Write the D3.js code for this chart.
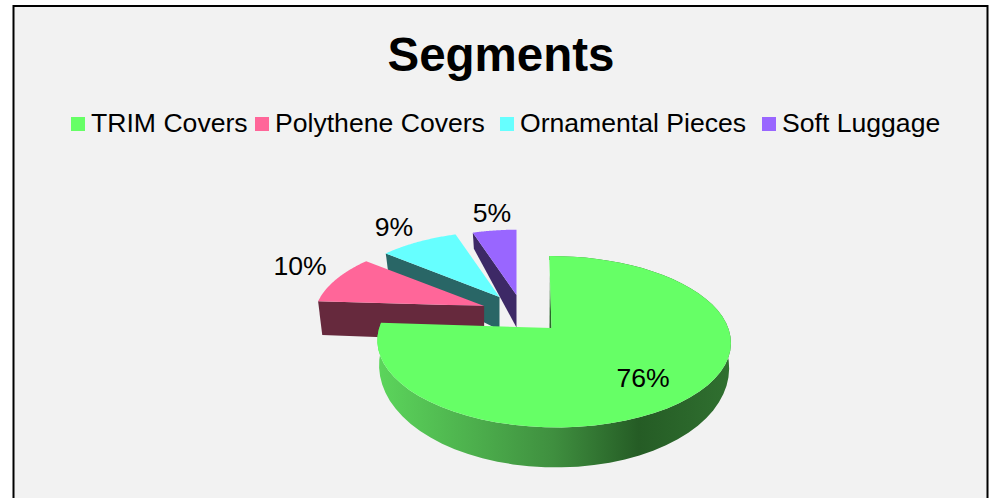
<!DOCTYPE html>
<html>
<head>
<meta charset="utf-8">
<script src="https://cdn.jsdelivr.net/npm/d3@7"></script>
<style>
  html, body { margin: 0; padding: 0; background: #fff; overflow: hidden; }
  text { font-family: "Liberation Sans", Arial, sans-serif; fill: #000; }
</style>
</head>
<body>
<div id="chart"></div>
<script>
// ------------------- //
// DATA
// ------------------- //
var categories = ["TRIM Covers", "Polythene Covers", "Ornamental Pieces", "Soft Luggage"]
var shares = [76, 10, 9, 5]
var topColors = ["#66ff66", "#ff6699", "#66ffff", "#9966ff"]
var sideColors = ["#2a662a", "#66293d", "#296666", "#3d2966"]

// ------------------- //
// LAYOUT
// ------------------- //
var width = 989, height = 498
var legendX = [71, 255, 500, 762]
var labelPos = [[643, 387], [300, 275], [394, 236], [492, 222]]
// how far each slice is pulled out of the pie, in units of the radius
var explode = [[0, 0], [-0.405, 0.275], [-0.318, 0.395], [-0.2147, 0.422]]
var lean = [2.3, 0, 0, 0]
// small per slice corrections of the rim, horizontal and vertical
var spreadX = [1, 1.018, 1, 1]
var spreadY = [1, 0.98, 0.97, 0.97]

var svg = d3.select("#chart")
.append("svg")
  .attr("width", width)
  .attr("height", height)
  .style("display", "block")

svg.append("rect")
  .attr("x", 13.5)
  .attr("y", 6)
  .attr("width", 974)
  .attr("height", 520)
  .attr("fill", "#f2f2f2")
  .attr("stroke", "#000")
  .attr("stroke-width", 2)

// Title
svg.append("text")
  .attr("x", 501)
  .attr("y", 71)
  .attr("text-anchor", "middle")
  .style("font-size", "47.5px")
  .style("font-weight", "bold")
  .text("Segments")

// Legend
var legend = svg.selectAll(".legend")
  .data(categories)
  .enter()
  .append("g")
    .attr("class", "legend")
    .attr("transform", function(d, i) { return "translate(" + legendX[i] + ",117)" })
legend.append("rect")
  .attr("width", 14)
  .attr("height", 14)
  .attr("fill", function(d, i) { return topColors[i] })
legend.append("text")
  .attr("x", 20)
  .attr("y", 15)
  .style("font-size", "26.6px")
  .text(function(d) { return d })

// ------------------- //
// 3D PROJECTION
// ------------------- //
var ox = 551.5, oy = 328, rx = 174.5, ry = 83.5, tilt = 0.16, turn = 0.0127

// x right, y to the back, on the plane of the top faces
function project(x, y) {
  var s = 1 / (1 + tilt * y - turn * x)
  return [ox + rx * x * s, oy - ry * y * s]
}

// height of the walls on screen
function rimWall(y) { return 22 - 18 * y }
function cutWall(y) { return 39.5 - 17 * y }

// point on the rim of slice i at angle a, z = 0 top face, z = 1 bottom face
function slicePoint(i, a, z) {
  var off = explode[i],
    k = 1 / (1 + tilt * off[1]),
    apex = project(off[0], off[1]),
    origin = project(0, 0),
    p = project(Math.sin(a), Math.cos(a)),
    shrink = i == 0 ? 0.01 : 0.025,
    w = i == 0 ? rimWall(Math.cos(a)) : cutWall(off[1] + Math.cos(a))
  return [apex[0] + (p[0] - origin[0]) * k * spreadX[i] * (1 - shrink * z) - lean[i] * Math.cos(a),
    apex[1] + (p[1] - origin[1]) * k * spreadY[i] + z * w]
}

function apexPoint(i, z) {
  var off = explode[i], p = project(off[0], off[1])
  return [p[0], p[1] + z * cutWall(off[1])]
}

var line = d3.line()

var defs = svg.append("defs")
var grad = defs.append("linearGradient")
  .attr("id", "rim")
  .attr("gradientUnits", "userSpaceOnUse")
  .attr("x1", 376).attr("x2", 731).attr("y1", 0).attr("y2", 0)
var stops = [[0, "#5cd65c"], [0.32, "#4aa94a"], [0.5, "#3f8f3f"], [0.74, "#255c25"], [1, "#307030"]]
stops.forEach(function(s) {
  grad.append("stop").attr("offset", s[0]).attr("stop-color", s[1])
})

var slices = d3.pie().sort(null)(shares)

// back slices first, the big one last
d3.range(slices.length - 1, -1, -1).forEach(function(i) {
  var d = slices[i]
  var arcPts = d3.range(0, 61).map(function(k) {
    return d.startAngle + (d.endAngle - d.startAngle) * k / 60
  })
  var g = svg.append("g")

  if (i == 0) {
    // outer wall
    var rim = arcPts.map(function(a) { return slicePoint(0, a, 0) })
      .concat(arcPts.slice().reverse().map(function(a) { return slicePoint(0, a, 1) }))
    g.append("path")
      .attr("d", line(rim) + "Z")
      .attr("fill", "url(#rim)")
    // sliver of the cut face at twelve o'clock
    var apex = apexPoint(0, 0), far = project(0, 0.7)
    g.append("path")
      .attr("d", line([[far[0] - 1.6, far[1]], apex, [apex[0] - 2, apex[1] + 1]]) + "Z")
      .attr("fill", sideColors[0])
  } else {
    // cut face at the start of the slice
    var face = [apexPoint(i, 0), slicePoint(i, d.startAngle, 0), slicePoint(i, d.startAngle, 1), apexPoint(i, 1)]
    g.append("path")
      .attr("d", line(face) + "Z")
      .attr("fill", sideColors[i])
  }

  // top face
  var top = [apexPoint(i, 0)].concat(arcPts.map(function(a) { return slicePoint(i, a, 0) }))
  g.append("path")
    .attr("d", line(top) + "Z")
    .attr("fill", topColors[i])
})

// Value labels
svg.selectAll(".label")
  .data(shares)
  .enter()
  .append("text")
    .attr("class", "label")
    .attr("x", function(d, i) { return labelPos[i][0] })
    .attr("y", function(d, i) { return labelPos[i][1] })
    .attr("text-anchor", "middle")
    .style("font-size", "26.6px")
    .text(function(d) { return d + "%" })
</script>
</body>
</html>
